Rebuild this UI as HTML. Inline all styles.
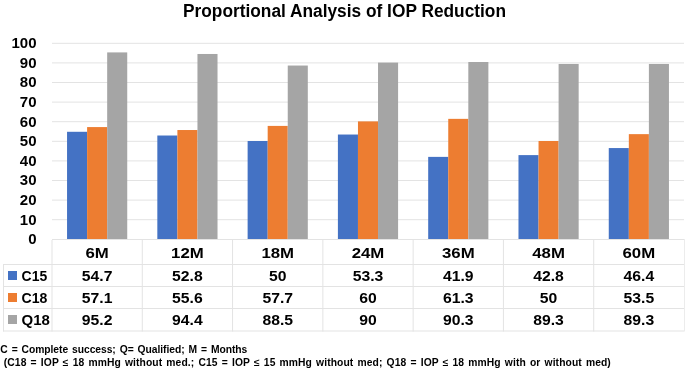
<!DOCTYPE html><html><head><meta charset="utf-8"><style>html,body{margin:0;padding:0;background:#fff;}body{width:685px;height:369px;overflow:hidden;}svg{display:block;will-change:transform;font-family:"Liberation Sans",sans-serif;}</style></head><body>
<svg width="685" height="369" viewBox="0 0 685 369">
<rect width="685" height="369" fill="#fff"/>
<text x="183" y="16.9" font-size="17.5" font-weight="bold" textLength="323" lengthAdjust="spacingAndGlyphs" fill="#000">Proportional Analysis of IOP Reduction</text>
<path d="M52 43.3H684M52 62.9H684M52 82.5H684M52 102.1H684M52 121.7H684M52 141.3H684M52 160.9H684M52 180.5H684M52 200.1H684M52 219.7H684" stroke="#e3e3e3" stroke-width="1" fill="none"/>
<text x="36.5" y="244.20" font-size="15" font-weight="bold" text-anchor="end">0</text>
<text x="36.5" y="224.60" font-size="15" font-weight="bold" text-anchor="end">10</text>
<text x="36.5" y="205.00" font-size="15" font-weight="bold" text-anchor="end">20</text>
<text x="36.5" y="185.40" font-size="15" font-weight="bold" text-anchor="end">30</text>
<text x="36.5" y="165.80" font-size="15" font-weight="bold" text-anchor="end">40</text>
<text x="36.5" y="146.20" font-size="15" font-weight="bold" text-anchor="end">50</text>
<text x="36.5" y="126.60" font-size="15" font-weight="bold" text-anchor="end">60</text>
<text x="36.5" y="107.00" font-size="15" font-weight="bold" text-anchor="end">70</text>
<text x="36.5" y="87.40" font-size="15" font-weight="bold" text-anchor="end">80</text>
<text x="36.5" y="67.80" font-size="15" font-weight="bold" text-anchor="end">90</text>
<text x="36.5" y="48.20" font-size="15" font-weight="bold" text-anchor="end">100</text>
<rect x="67.05" y="131.79" width="20.06" height="107.21" fill="#4472c4"/>
<rect x="87.11" y="127.08" width="20.06" height="111.92" fill="#ed7d31"/>
<rect x="107.17" y="52.41" width="20.06" height="186.59" fill="#a5a5a5"/>
<rect x="157.33" y="135.51" width="20.06" height="103.49" fill="#4472c4"/>
<rect x="177.40" y="130.02" width="20.06" height="108.98" fill="#ed7d31"/>
<rect x="197.46" y="53.98" width="20.06" height="185.02" fill="#a5a5a5"/>
<rect x="247.62" y="141.00" width="20.06" height="98.00" fill="#4472c4"/>
<rect x="267.68" y="125.91" width="20.06" height="113.09" fill="#ed7d31"/>
<rect x="287.75" y="65.54" width="20.06" height="173.46" fill="#a5a5a5"/>
<rect x="337.90" y="134.53" width="20.06" height="104.47" fill="#4472c4"/>
<rect x="357.97" y="121.40" width="20.06" height="117.60" fill="#ed7d31"/>
<rect x="378.03" y="62.60" width="20.06" height="176.40" fill="#a5a5a5"/>
<rect x="428.19" y="156.88" width="20.06" height="82.12" fill="#4472c4"/>
<rect x="448.25" y="118.85" width="20.06" height="120.15" fill="#ed7d31"/>
<rect x="468.32" y="62.01" width="20.06" height="176.99" fill="#a5a5a5"/>
<rect x="518.48" y="155.11" width="20.06" height="83.89" fill="#4472c4"/>
<rect x="538.54" y="141.00" width="20.06" height="98.00" fill="#ed7d31"/>
<rect x="558.60" y="63.97" width="20.06" height="175.03" fill="#a5a5a5"/>
<rect x="608.76" y="148.06" width="20.06" height="90.94" fill="#4472c4"/>
<rect x="628.83" y="134.14" width="20.06" height="104.86" fill="#ed7d31"/>
<rect x="648.89" y="63.97" width="20.06" height="175.03" fill="#a5a5a5"/>
<path d="M52 239.5H684M3 264.5H684M3 286.5H684M3 308.5H684M3 331.0H684M52.00 240V331.5M142.29 240V331.5M232.57 240V331.5M322.86 240V331.5M413.14 240V331.5M503.43 240V331.5M593.71 240V331.5M3.5 264V331.5" stroke="#e3e3e3" stroke-width="1" fill="none"/>
<path d="M684.5 239V331.5" stroke="#ececec" stroke-width="1" fill="none"/>
<text transform="translate(97.14 257.6) scale(1.12 1)" font-size="15" font-weight="bold" text-anchor="middle">6M</text>
<text transform="translate(187.43 257.6) scale(1.12 1)" font-size="15" font-weight="bold" text-anchor="middle">12M</text>
<text transform="translate(277.71 257.6) scale(1.12 1)" font-size="15" font-weight="bold" text-anchor="middle">18M</text>
<text transform="translate(368.00 257.6) scale(1.12 1)" font-size="15" font-weight="bold" text-anchor="middle">24M</text>
<text transform="translate(458.29 257.6) scale(1.12 1)" font-size="15" font-weight="bold" text-anchor="middle">36M</text>
<text transform="translate(548.57 257.6) scale(1.12 1)" font-size="15" font-weight="bold" text-anchor="middle">48M</text>
<text transform="translate(638.86 257.6) scale(1.12 1)" font-size="15" font-weight="bold" text-anchor="middle">60M</text>
<text transform="translate(97.14 280.6) scale(1.05 1)" font-size="15" font-weight="bold" text-anchor="middle">54.7</text>
<text transform="translate(187.43 280.6) scale(1.05 1)" font-size="15" font-weight="bold" text-anchor="middle">52.8</text>
<text transform="translate(277.71 280.6) scale(1.05 1)" font-size="15" font-weight="bold" text-anchor="middle">50</text>
<text transform="translate(368.00 280.6) scale(1.05 1)" font-size="15" font-weight="bold" text-anchor="middle">53.3</text>
<text transform="translate(458.29 280.6) scale(1.05 1)" font-size="15" font-weight="bold" text-anchor="middle">41.9</text>
<text transform="translate(548.57 280.6) scale(1.05 1)" font-size="15" font-weight="bold" text-anchor="middle">42.8</text>
<text transform="translate(638.86 280.6) scale(1.05 1)" font-size="15" font-weight="bold" text-anchor="middle">46.4</text>
<rect x="8" y="271" width="9" height="9" fill="#4472c4"/>
<text transform="translate(21.6 280.6) scale(0.93 1)" font-size="15" font-weight="bold">C15</text>
<text transform="translate(97.14 302.9) scale(1.05 1)" font-size="15" font-weight="bold" text-anchor="middle">57.1</text>
<text transform="translate(187.43 302.9) scale(1.05 1)" font-size="15" font-weight="bold" text-anchor="middle">55.6</text>
<text transform="translate(277.71 302.9) scale(1.05 1)" font-size="15" font-weight="bold" text-anchor="middle">57.7</text>
<text transform="translate(368.00 302.9) scale(1.05 1)" font-size="15" font-weight="bold" text-anchor="middle">60</text>
<text transform="translate(458.29 302.9) scale(1.05 1)" font-size="15" font-weight="bold" text-anchor="middle">61.3</text>
<text transform="translate(548.57 302.9) scale(1.05 1)" font-size="15" font-weight="bold" text-anchor="middle">50</text>
<text transform="translate(638.86 302.9) scale(1.05 1)" font-size="15" font-weight="bold" text-anchor="middle">53.5</text>
<rect x="8" y="293" width="9" height="9" fill="#ed7d31"/>
<text transform="translate(21.6 302.9) scale(0.94 1)" font-size="15" font-weight="bold">C18</text>
<text transform="translate(97.14 325.0) scale(1.05 1)" font-size="15" font-weight="bold" text-anchor="middle">95.2</text>
<text transform="translate(187.43 325.0) scale(1.05 1)" font-size="15" font-weight="bold" text-anchor="middle">94.4</text>
<text transform="translate(277.71 325.0) scale(1.05 1)" font-size="15" font-weight="bold" text-anchor="middle">88.5</text>
<text transform="translate(368.00 325.0) scale(1.05 1)" font-size="15" font-weight="bold" text-anchor="middle">90</text>
<text transform="translate(458.29 325.0) scale(1.05 1)" font-size="15" font-weight="bold" text-anchor="middle">90.3</text>
<text transform="translate(548.57 325.0) scale(1.05 1)" font-size="15" font-weight="bold" text-anchor="middle">89.3</text>
<text transform="translate(638.86 325.0) scale(1.05 1)" font-size="15" font-weight="bold" text-anchor="middle">89.3</text>
<rect x="8" y="315" width="9" height="9" fill="#a5a5a5"/>
<text transform="translate(21.6 325.0) scale(1.0 1)" font-size="15" font-weight="bold">Q18</text>
<text x="0.3" y="353.4" font-size="10.3" font-weight="bold" textLength="247" lengthAdjust="spacing" word-spacing="1.2" xml:space="preserve">C = Complete success; Q= Qualified; M = Months</text>
<text x="3.8" y="365.7" font-size="10.3" font-weight="bold" textLength="607" lengthAdjust="spacing" word-spacing="1.2" xml:space="preserve">(C18 = IOP ≤ 18 mmHg without med.; C15 = IOP ≤ 15 mmHg without med; Q18 = IOP ≤ 18 mmHg with or without med)</text>
</svg></body></html>
